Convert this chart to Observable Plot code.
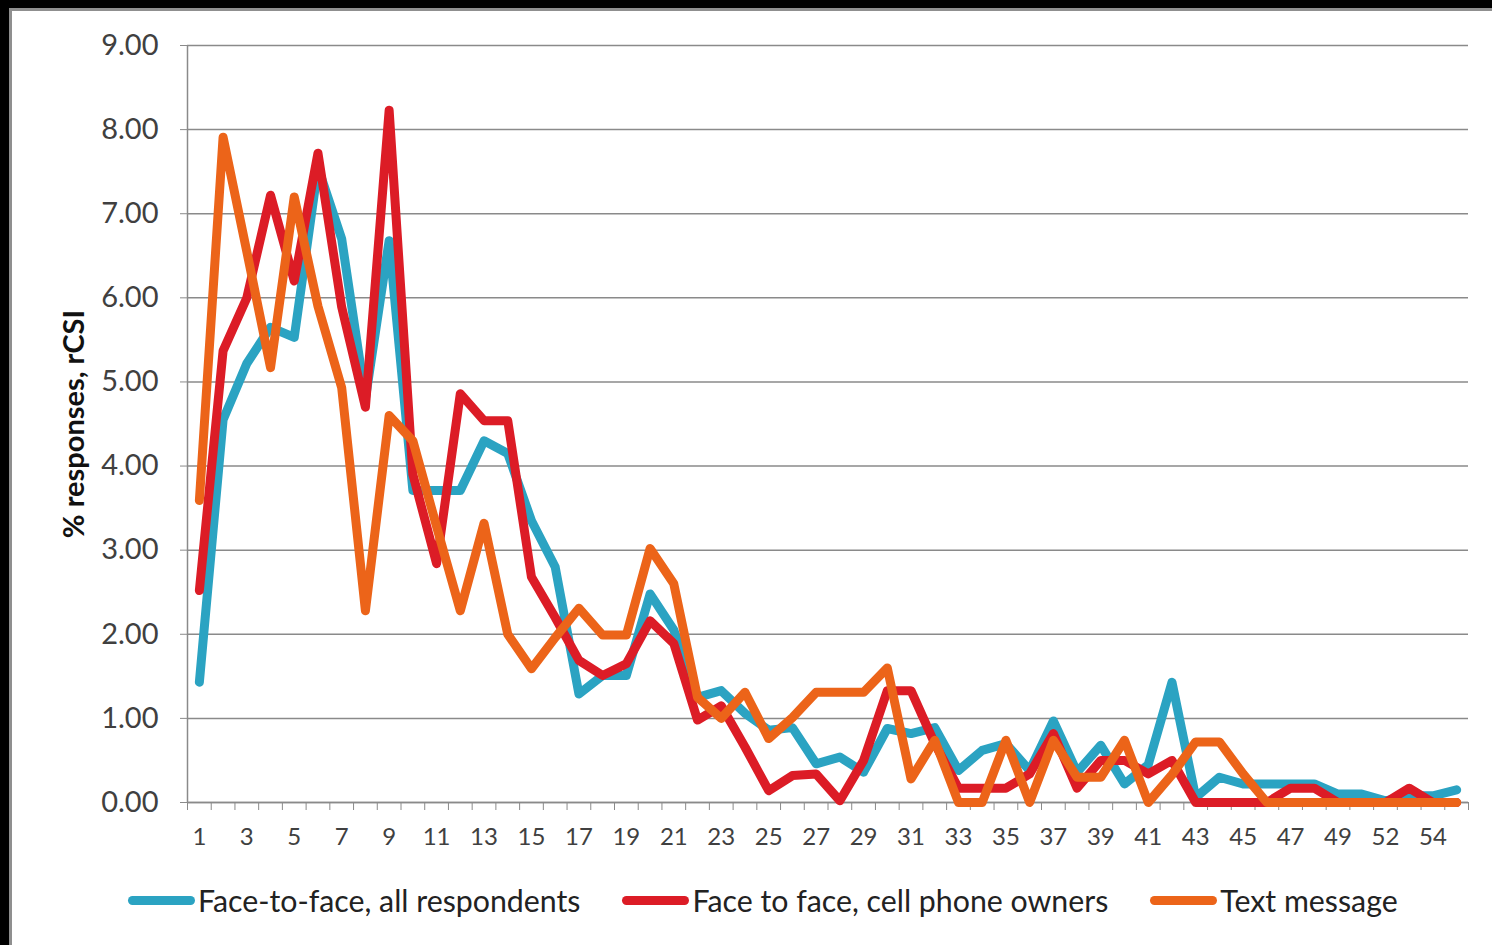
<!DOCTYPE html>
<html>
<head>
<meta charset="utf-8">
<script src="https://cdn.jsdelivr.net/npm/d3@7"></script>
<script src="https://cdn.jsdelivr.net/npm/@observablehq/plot@0.6"></script>
<style>
  html, body { margin: 0; padding: 0; background: #fff; }
  body { width: 1492px; height: 945px; position: relative; overflow: hidden; font-family: Lato, "Open Sans", sans-serif; }
  .blk { position: absolute; background: #000; }
  .gry { position: absolute; background: #8f8f8f; }
  #chart { position: absolute; left: 0; top: 0; }
  #ytitle { position: absolute; left: 72px; top: 424px; transform: translate(-50%, -50%) rotate(-90deg);
            font-weight: bold; font-size: 29px; color: #111; white-space: nowrap; }
  #legend { position: absolute; left: 128px; top: 882px; display: flex; gap: 42px; align-items: center;
            font-size: 30.3px; color: #222; white-space: nowrap; }
  .item { display: flex; align-items: center; }
  .sw { width: 67px; height: 9px; border-radius: 4.5px; margin-right: 3px; }
</style>
</head>
<body>
<div id="chart"></div>
<div class="blk" style="left:0;top:0;width:1492px;height:8px"></div>
<div class="gry" style="left:9px;top:8px;width:1483px;height:3px"></div>
<div class="blk" style="left:0;top:0;width:9px;height:945px"></div>
<div class="gry" style="left:9px;top:8px;width:3px;height:937px"></div>
<div id="ytitle">% responses, rCSI</div>
<div id="legend"></div>
<script>
// Categories (x axis); note there is no category 51
const categories = ["1","2","3","4","5","6","7","8","9","10","11","12","13","14","15","16","17","18","19","20",
  "21","22","23","24","25","26","27","28","29","30","31","32","33","34","35","36","37","38","39","40",
  "41","42","43","44","45","46","47","48","49","50","52","53","54","55"];

const seriesNames = ["Face-to-face, all respondents", "Face to face, cell phone owners", "Text message"];
const seriesColors = ["#2ba3c2", "#dc1c26", "#ec6419"];

const faceAll = [1.43, 4.55, 5.22, 5.65, 5.53, 7.55, 6.70, 4.80, 6.68, 3.71,
  3.71, 3.71, 4.30, 4.15, 3.35, 2.80, 1.29, 1.51, 1.51, 2.48,
  2.05, 1.25, 1.33, 1.06, 0.86, 0.89, 0.46, 0.54, 0.36, 0.88,
  0.82, 0.89, 0.38, 0.62, 0.70, 0.38, 0.97, 0.36, 0.68, 0.22,
  0.45, 1.43, 0.06, 0.30, 0.22, 0.22, 0.22, 0.22, 0.10, 0.10,
  0.02, 0.08, 0.08, 0.15];

const faceCell = [2.52, 5.37, 6.00, 7.22, 6.20, 7.72, 5.89, 4.70, 8.23, 3.90,
  2.84, 4.86, 4.54, 4.54, 2.68, 2.20, 1.69, 1.51, 1.65, 2.16,
  1.89, 0.98, 1.15, 0.66, 0.14, 0.32, 0.34, 0.02, 0.50, 1.33,
  1.33, 0.70, 0.17, 0.17, 0.17, 0.34, 0.82, 0.17, 0.50, 0.50,
  0.34, 0.50, 0.00, 0.00, 0.00, 0.00, 0.17, 0.17, 0.00, 0.00,
  0.00, 0.17, 0.00, 0.00];

const textMsg = [3.59, 7.91, 6.55, 5.17, 7.20, 5.90, 4.93, 2.28, 4.60, 4.30,
  3.28, 2.28, 3.32, 2.00, 1.59, 1.96, 2.31, 1.99, 1.99, 3.02,
  2.60, 1.25, 1.00, 1.31, 0.76, 1.01, 1.31, 1.31, 1.31, 1.60,
  0.28, 0.74, 0.00, 0.00, 0.74, 0.00, 0.74, 0.30, 0.30, 0.74,
  0.00, 0.33, 0.72, 0.72, 0.34, 0.00, 0.00, 0.00, 0.00, 0.00,
  0.00, 0.00, 0.00, 0.00];

const yTicks = [0, 1, 2, 3, 4, 5, 6, 7, 8, 9];

const idx = categories.map((c, i) => i);
const labelIdx = idx.filter(i => i % 2 === 0);
const boundaries = categories.map((c, i) => i - 0.5).concat([categories.length - 0.5]);
const gray = "#8a8a8a";

const lineOpts = (color) => ({x: (d, i) => i, y: d => d, stroke: color, strokeWidth: 9,
  strokeLinejoin: "round", strokeLinecap: "round"});

const chart = Plot.plot({
  width: 1492,
  height: 860,
  marginLeft: 187,
  marginRight: 24,
  marginTop: 45,
  marginBottom: 58,
  style: {fontFamily: "Lato, sans-serif", fontSize: "28px", color: "#404040", background: "transparent"},
  x: {type: "linear", domain: [-0.5, categories.length - 0.5]},
  y: {domain: [0, 9]},
  marks: [
    Plot.gridY(yTicks, {stroke: gray, strokeOpacity: 1, strokeWidth: 1.5}),
    Plot.axisY(yTicks, {tickSize: 7, tickPadding: 22, tickFormat: d => d.toFixed(2),
      stroke: gray, fill: "#404040", fontSize: 29, label: null}),
    Plot.ruleX([-0.5], {y1: 0, y2: 9, stroke: gray, strokeWidth: 1.5}),
    Plot.ruleY([0], {stroke: gray, strokeWidth: 1.5}),
    Plot.axisX(boundaries, {tickSize: 8, tickFormat: () => "", stroke: gray, label: null}),
    Plot.axisX(labelIdx, {tickSize: 0, tickPadding: 25, tickFormat: i => categories[i],
      fill: "#404040", fontSize: 24, label: null}),
    Plot.lineY(faceAll, lineOpts(seriesColors[0])),
    Plot.lineY(faceCell, lineOpts(seriesColors[1])),
    Plot.lineY(textMsg, lineOpts(seriesColors[2]))
  ]
});
document.getElementById("chart").appendChild(chart);

const legend = document.getElementById("legend");
seriesNames.forEach((name, i) => {
  const item = document.createElement("div");
  item.className = "item";
  const sw = document.createElement("span");
  sw.className = "sw";
  sw.style.background = seriesColors[i];
  const t = document.createElement("span");
  t.textContent = name;
  item.appendChild(sw);
  item.appendChild(t);
  legend.appendChild(item);
});
</script>
</body>
</html>
